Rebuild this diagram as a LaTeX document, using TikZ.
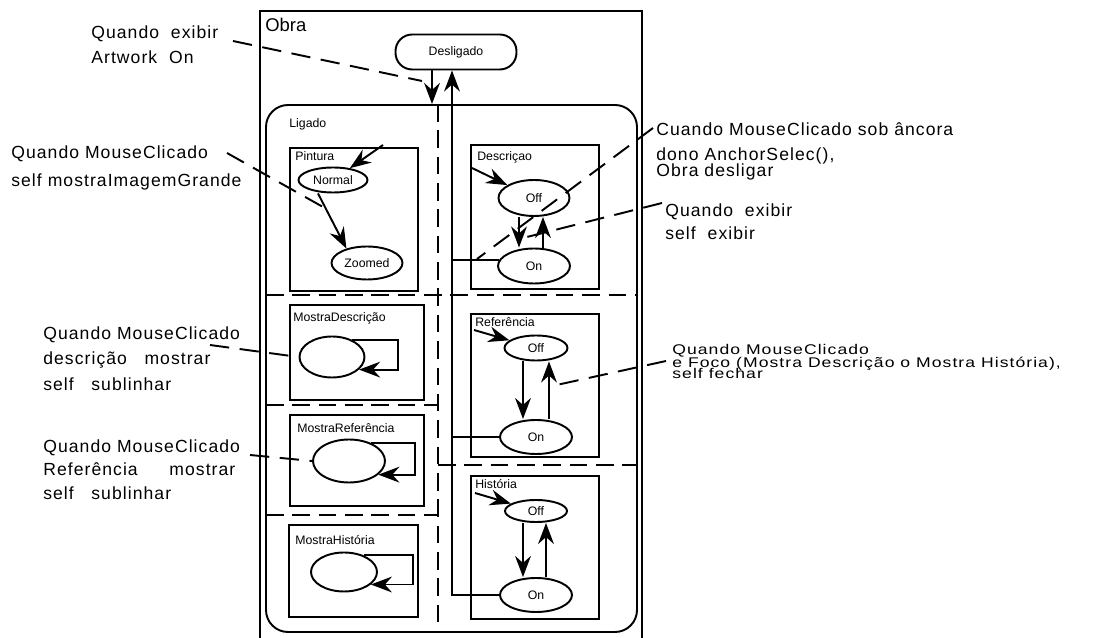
\documentclass[tikz,border=0pt]{standalone}
\usepackage{fontspec}
\setmainfont{Liberation Sans}
\newfontfamily\annfont[LetterSpace=6]{Liberation Sans}
\usetikzlibrary{arrows.meta,shapes.geometric,calc}

\begin{document}
\begin{tikzpicture}[x=0.02cm, y=-0.02cm,
    estado/.style={draw, ellipse, line width=1.1pt, inner sep=0pt, font=\fontsize{7}{8}\selectfont},
    tam/.style 2 args={minimum width=#1*0.2mm, minimum height=#2*0.2mm},
    caixa/.style={draw, line width=1.1pt},
    rotulo/.style={anchor=west, inner sep=0pt, font=\fontsize{7}{8}\selectfont},
    nota/.style={anchor=north west, align=left, inner sep=0pt, font=\annfont\fontsize{10}{#1}\selectfont},
    nota/.default=14.2,
    guia/.style={line width=1.1pt, dash pattern=on 11pt off 6pt},
    divisa/.style={line width=1.1pt, dash pattern=on 10pt off 5pt},
    seta/.style={line width=1.1pt, -{Stealth[length=12pt,width=9pt,inset=4pt]}}]
    \useasboundingbox (0,0) rectangle (1117,638);
    \draw[caixa] (260,11) rectangle (642,660);
    \node[anchor=west, inner sep=0pt, font=\fontsize{10.5}{12}\selectfont] (obra) at (265,25) {Obra};
    \node[draw, line width=1.1pt, rounded corners=9.5pt, tam={121}{35}, inner sep=0pt, font=\fontsize{7}{8}\selectfont] (desl) at (456,52) {Desligado};
    \draw[caixa, rounded corners=12.5pt] (266,105) rectangle (637,632);
    \node[rotulo] (ligado) at (289,124) {Ligado};

    \draw[divisa] (438,104) -- (438,632);
    \draw[divisa] (266,295) -- (637,295);
    \draw[divisa] (266,405) -- (438,405);
    \draw[divisa] (438,465) -- (637,465);
    \draw[divisa] (266,515) -- (438,515);

    \draw[caixa] (290,148) rectangle (418,291);
    \node[rotulo] (pintura) at (295,156) {Pintura};
    \node[estado, tam={69}{25}] (normal) at (333,180) {Normal};
    \node[estado, tam={71}{33}] (zoomed) at (367,263) {Zoomed};

    \draw[caixa] (471,145) rectangle (599,289);
    \node[rotulo] (descr) at (477,157) {Descriçao};
    \node[estado, tam={71}{36}] (doff) at (534,198) {Off};
    \node[estado, tam={72}{35}] (don) at (534,266) {On};

    \draw[caixa] (290,305) rectangle (424,400);
    \node[rotulo] (mdescr) at (293,318) {MostraDescrição};
    \node[estado, tam={65}{41}] (md) at (332,357) {};

    \draw[caixa] (471,314) rectangle (599,457);
    \node[rotulo] (refer) at (475,322) {Referência};
    \node[estado, tam={63}{25}] (roff) at (536,348) {Off};
    \node[estado, tam={72}{34}] (ron) at (536,437) {On};

    \draw[caixa] (290,415) rectangle (424,506);
    \node[rotulo] (mrefer) at (297,428) {MostraReferência};
    \node[estado, tam={72}{43}] (mr) at (349,461) {};

    \draw[caixa] (471,476) rectangle (599,619);
    \node[rotulo] (hist) at (475,484) {História};
    \node[estado, tam={62}{22}] (hoff) at (536,511) {Off};
    \node[estado, tam={72}{34}] (hon) at (536,595) {On};

    \draw[caixa] (289,525) rectangle (418,617);
    \node[rotulo] (mhist) at (295,540) {MostraHistória};
    \node[estado, tam={66}{39}] (mh) at (344,572) {};

    \coordinate (ent) at (432,104);
    \coordinate (bus) at ($(desl.south)+(-4,0)$);
    \draw[seta] ($(desl.south)+(-24,0)$) -- (ent);
    \draw[seta] (hon.west) -| (bus);
    \draw[line width=1.1pt] (don.170) -- (don.170 -| bus);
    \draw[line width=1.1pt] (ron.west) -- (ron.west -| bus);

    \coordinate (ini1) at (383,145);
    \coordinate (ini2) at (472,168);
    \coordinate (ini3) at (474,330);
    \coordinate (ini4) at (475,493);
    \draw[seta] (ini1) -- (normal);
    \draw[seta] (ini2) -- (doff);
    \draw[seta] (ini3) -- (roff);
    \draw[seta] (ini4) -- (hoff);
    \draw[seta] ($(normal.south)+(-15,0)$) -- (zoomed.145);

    \foreach \a/\b/\l/\r in {doff/don/-15/9, roff/ron/-13/13, hoff/hon/-13/10} {
        \draw[seta] ($(\a.south)+(\l,0)$) -- ($(\b.north)+(\l,0)$);
        \draw[seta] ($(\b.north)+(\r,0)$) -- ($(\a.south)+(\r,0)$);
    }

    \draw[seta] (md.40) -- ++(46,0) |- (md.-25);
    \draw[seta] (mr.40) -- ++(44,0) |- (mr.-25);
    \draw[seta] (mh.40) -- ++(49,0) |- (mh.-25);

    \node[nota] (n1) at (91,25) {Quando\ \ exibir\\Artwork\ \ On};
    \node[nota=15.9] (n2) at (11,145) {Quando MouseClicado\\self mostraImagemGrande};
    \node[nota=14.5] (n3) at (43,326) {Quando MouseClicado\\descrição\hspace{1em}mostrar\\self\hspace{1em}sublinhar};
    \node[nota=13.6] (n4) at (43,439) {Quando MouseClicado\\Referência\hspace{1.8em}mostrar\\self\hspace{1em}sublinhar};
    \node[nota] (n5) at (656,122) {Cuando MouseClicado sob âncora\\dono AnchorSelec(),\\[-4.6pt]Obra desligar};
    \node[nota=13.6] (n6) at (665,203) {Quando\ \ exibir\\self\ \ exibir};
    \node[nota] (n7) at (672,340) {\scalebox{1}[0.8]{\begin{tabular}{@{}l@{}}Quando MouseClicado\\[-5pt]e Foco (Mostra Descrição o Mostra História),\\[-6pt]self fechar\end{tabular}}};

    \coordinate (g1) at (233,41);
    \coordinate (g1f) at (422,81);
    \coordinate (g2) at (227,153);
    \coordinate (g2f) at (323,207);
    \coordinate (g3) at (210,345);
    \coordinate (g4) at (250,455);
    \coordinate (g5) at (653,128);
    \coordinate (g5f) at (477,259);
    \coordinate (g6) at (662,203);
    \coordinate (g6f) at (527,237);
    \coordinate (g7) at (666,361);
    \coordinate (g7f) at (552,386);
    \draw[guia] (g1) -- (g1f);
    \draw[guia] (g2) -- (g2f);
    \draw[guia] (g3) -- (md.west);
    \draw[guia] (g4) -- (mr.west);
    \draw[guia] (g5) -- (g5f);
    \draw[guia] (g6) -- (g6f);
    \draw[guia] (g7) -- (g7f);
\end{tikzpicture}
\end{document}
